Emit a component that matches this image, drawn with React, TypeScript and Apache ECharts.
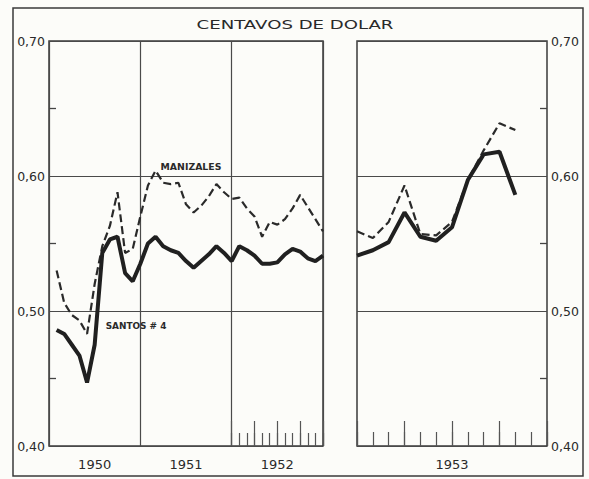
import React, { useEffect, useRef } from "react";
import * as echarts from "echarts";

// Category labels (years) for each panel
const yearsLeft = ["1950", "1951", "1952"];
const yearsRight = ["1953"];
// Intermediate (unlabelled) value-axis ticks
const minorYTicks = [0.45, 0.55, 0.65];

// Monthly prices (US cents per lb, as dollars), end of month, Jan 1950 .. Dec 1952
const manizales5052 = [
  0.53, 0.506, 0.497, 0.493, 0.483, 0.52, 0.548, 0.563, 0.588, 0.543, 0.546, 0.57,
  0.593, 0.604, 0.595, 0.594, 0.595, 0.579, 0.573, 0.578, 0.585, 0.594, 0.588, 0.583,
  0.584, 0.576, 0.57, 0.555, 0.566, 0.564, 0.568, 0.576, 0.586, 0.577, 0.568, 0.559,
];
const santos5052 = [
  0.486, 0.483, 0.475, 0.467, 0.447, 0.475, 0.543, 0.553, 0.555, 0.528, 0.522, 0.535,
  0.55, 0.555, 0.548, 0.545, 0.543, 0.537, 0.532, 0.537, 0.542, 0.548, 0.543, 0.537,
  0.548, 0.545, 0.541, 0.535, 0.535, 0.536, 0.542, 0.546, 0.544, 0.539, 0.537, 0.541,
];
// 1953 panel: Dec 1952 (start) .. Oct 1953
const manizales53 = [0.559, 0.554, 0.566, 0.593, 0.557, 0.556, 0.566, 0.597, 0.619, 0.639, 0.634];
const santos53 = [0.541, 0.545, 0.551, 0.573, 0.555, 0.552, 0.562, 0.597, 0.616, 0.618, 0.586];

const titleText = "CENTAVOS DE DOLAR";
const labelManizales = "MANIZALES";
const labelSantos = "SANTOS # 4";

const FONT = "DejaVu Sans";
const INK = "#2a2a2a";

export default function App() {
  const ref = useRef<HTMLDivElement>(null);
  useEffect(() => {
    if (!ref.current) return;
    const chart = echarts.init(ref.current, null, { renderer: "svg" });
    const TOP = 41;
    const H = 405;
    const L1 = 49;
    const W1 = 274;
    const L2 = 357;
    const W2 = 190;
    const gridLine = { color: "#4a4a4a", width: 1.2 };
    const yLabel = {
      formatter: (v: number) => v.toFixed(2).replace(".", ","),
      fontSize: 12.5,
      fontFamily: FONT,
      color: INK,
      margin: 4,
    };
    const tickAxis = (gridIndex: number, interval: number, length: number) => ({
      gridIndex,
      type: "value",
      position: "bottom",
      min: 0,
      max: 12,
      interval,
      axisLine: { show: false },
      axisLabel: { show: false },
      splitLine: { show: false },
      axisTick: { show: true, inside: true, length, lineStyle: { color: "#555", width: 1.2 } },
    });
    const yAxisFor = (gridIndex: number, position: string) => ({
      gridIndex,
      type: "value",
      position,
      min: 0.4,
      max: 0.7,
      interval: 0.1,
      axisLine: { show: false, onZero: false },
      axisTick: { show: false },
      axisLabel: yLabel,
      splitLine: { show: true, lineStyle: gridLine },
    });
    // Short inward ticks at the panel edge, placed through the axes' own scales
    const minorTickSeries = (xAxisIndex: number, yAxisIndex: number, edgeX: number, dir: number) => ({
      type: "custom",
      xAxisIndex,
      yAxisIndex,
      silent: true,
      clip: false,
      z: 2,
      data: minorYTicks.map((v) => [edgeX, v]),
      renderItem: (_params: any, api: any) => {
        const p = api.coord([api.value(0), api.value(1)]);
        return {
          type: "line",
          shape: { x1: p[0], y1: p[1], x2: p[0] + dir * 7, y2: p[1] },
          style: { stroke: "#444", lineWidth: 1.3 },
        };
      },
    });
    chart.setOption({
      animation: false,
      backgroundColor: "#fcfcf9",
      grid: [
        { left: L1, top: TOP, width: W1, height: H, show: true, borderColor: "#3a3a3a", borderWidth: 1.5, backgroundColor: "transparent" },
        { left: L2, top: TOP, width: W2, height: H, show: true, borderColor: "#3a3a3a", borderWidth: 1.5, backgroundColor: "transparent" },
        { left: L1 + (W1 * 2) / 3, top: TOP, width: W1 / 3, height: H, show: false },
      ],
      xAxis: [
        {
          gridIndex: 0,
          type: "category",
          position: "bottom",
          data: yearsLeft,
          boundaryGap: true,
          axisLine: { show: false },
          axisTick: { show: false },
          axisLabel: { margin: 12, fontSize: 13, fontFamily: FONT, color: INK },
          splitLine: { show: true, lineStyle: gridLine },
        },
        { gridIndex: 0, type: "value", position: "bottom", min: 0, max: 36, show: false },
        {
          gridIndex: 1,
          type: "category",
          position: "bottom",
          data: yearsRight,
          boundaryGap: true,
          axisLine: { show: false },
          axisTick: { show: false },
          axisLabel: { margin: 12, fontSize: 13, fontFamily: FONT, color: INK },
          splitLine: { show: false },
        },
        tickAxis(1, 1, 14),
        tickAxis(1, 3, 25),
        tickAxis(2, 1, 13),
        tickAxis(2, 3, 25),
      ],
      yAxis: [
        yAxisFor(0, "left"),
        yAxisFor(1, "right"),
        { gridIndex: 2, type: "value", min: 0.4, max: 0.7, show: false },
      ],
      series: [
        {
          name: "Manizales",
          type: "line",
          xAxisIndex: 1,
          yAxisIndex: 0,
          data: manizales5052.map((v, i) => [i + 1, v]),
          symbol: "none",
          lineStyle: { color: INK, width: 2.2, type: [8, 4] },
          z: 3,
        },
        {
          name: "Santos 4",
          type: "line",
          xAxisIndex: 1,
          yAxisIndex: 0,
          data: santos5052.map((v, i) => [i + 1, v]),
          symbol: "none",
          lineStyle: { color: "#202020", width: 4 },
          z: 4,
        },
        {
          name: "Manizales 1953",
          type: "line",
          xAxisIndex: 3,
          yAxisIndex: 1,
          data: manizales53.map((v, i) => [i, v]),
          symbol: "none",
          lineStyle: { color: INK, width: 2.2, type: [8, 4] },
          z: 3,
        },
        {
          name: "Santos 4 1953",
          type: "line",
          xAxisIndex: 3,
          yAxisIndex: 1,
          data: santos53.map((v, i) => [i, v]),
          symbol: "none",
          lineStyle: { color: "#202020", width: 4 },
          z: 4,
        },
        minorTickSeries(1, 0, 0, 1),
        minorTickSeries(3, 1, 12, -1),
      ],
      graphic: [
        {
          type: "rect",
          shape: { x: 13, y: 8, width: 570, height: 468 },
          style: { fill: "none", stroke: "#3a3a3a", lineWidth: 1.5 },
          silent: true,
        },
        {
          type: "text",
          x: 295,
          y: 25,
          scaleX: 1.45,
          style: {
            text: titleText,
            fontSize: 12.5,
            fontFamily: FONT,
            fill: INK,
            align: "center",
            verticalAlign: "middle",
            textAlign: "center",
            textVerticalAlign: "middle",
          },
        },
        {
          type: "text",
          x: 191,
          y: 167,
          scaleX: 1.1,
          style: {
            text: labelManizales,
            fontSize: 8.5,
            fontWeight: "bold",
            fontFamily: FONT,
            fill: INK,
            align: "center",
            verticalAlign: "middle",
            textAlign: "center",
            textVerticalAlign: "middle",
          },
        },
        {
          type: "text",
          x: 136,
          y: 326,
          scaleX: 1.05,
          style: {
            text: labelSantos,
            fontSize: 8.5,
            fontWeight: "bold",
            fontFamily: FONT,
            fill: INK,
            align: "center",
            verticalAlign: "middle",
            textAlign: "center",
            textVerticalAlign: "middle",
          },
        },
      ],
    });
    return () => chart.dispose();
  }, []);
  return (
    <div
      ref={ref}
      style={{ position: "fixed", left: 0, top: 0, width: 589, height: 479 }}
    />
  );
}
